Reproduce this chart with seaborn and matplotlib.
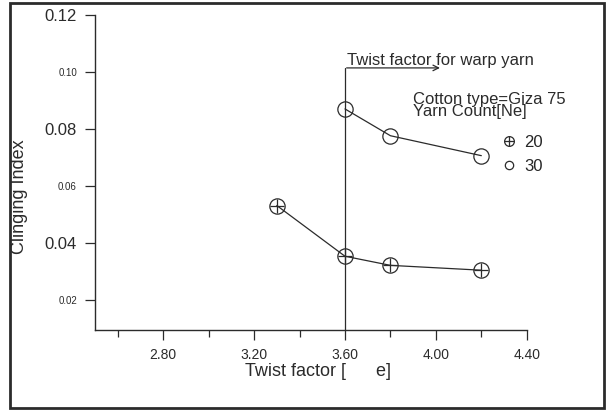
import pandas as pd
import numpy as np
import matplotlib.pyplot as plt
import seaborn as sns
from matplotlib.lines import Line2D
from matplotlib.legend_handler import HandlerTuple

# values
twist_20 = [3.30, 3.60, 3.80, 4.20]
cling_20 = [0.0532, 0.0354, 0.0322, 0.0305]
twist_30 = [3.60, 3.80, 4.20]
cling_30 = [0.0871, 0.0777, 0.0707]
count_labels = ["20", "30"]

df = pd.DataFrame({
    "twist": twist_20 + twist_30,
    "cling": cling_20 + cling_30,
    "count": [count_labels[0]] * len(twist_20) + [count_labels[1]] * len(twist_30),
})

sns.set_style("ticks")
plt.rcParams['font.family'] = ['Liberation Sans', 'DejaVu Sans']
ink = "#2b2b2b"

fig = plt.figure(figsize=(6.09, 4.11), dpi=100)
ax = fig.add_axes([0.156, 0.197, 0.709, 0.766])

for lab in count_labels:
    sub = df[df["count"] == lab]
    sns.lineplot(data=sub, x="twist", y="cling", ax=ax, color=ink, lw=0.9,
                 marker="o", markersize=11, markerfacecolor="none",
                 markeredgecolor=ink, markeredgewidth=0.9, legend=False)
sub20 = df[df["count"] == "20"]
sns.scatterplot(data=sub20, x="twist", y="cling", ax=ax, marker="+", s=110,
                color=ink, linewidth=0.9, legend=False)

ax.set_xlim(2.50, 4.40)
ax.set_ylim(0.0095, 0.12)
sns.despine(ax=ax)
for s in ["left", "bottom"]:
    ax.spines[s].set_color(ink)
    ax.spines[s].set_linewidth(1.0)

ax.set_xticks([2.80, 3.20, 3.60, 4.00, 4.40])
ax.set_xticks([2.60, 3.00, 3.40, 3.80, 4.20], minor=True)
ax.set_xticklabels(["2.80", "3.20", "3.60", "4.00", "4.40"], fontsize=10, color=ink)
ax.set_yticks([0.02, 0.04, 0.06, 0.08, 0.10, 0.12])
ax.set_yticklabels(["0.02", "0.04", "0.06", "0.08", "0.10", "0.12"], color=ink)
for i, t in enumerate(ax.get_yticklabels()):
    t.set_fontsize(7 if i % 2 == 0 else 12)
ax.tick_params(axis="both", which="major", length=7, width=0.9, color=ink, pad=6)
ax.tick_params(axis="x", which="minor", length=5, width=0.9, color=ink)

ax.set_xlabel("Twist factor [      e]", fontsize=13, color=ink, labelpad=0)
ax.set_ylabel("Clinging Index", fontsize=13, color=ink, labelpad=4)
ax.xaxis.set_label_coords(0.516, -0.105)
ax.yaxis.set_label_coords(-0.155, 0.425)

# warp yarn marker line with arrow
ax.plot([3.60, 3.60], [0.0095, 0.1015], color=ink, lw=0.9)
ax.annotate("", xy=(4.03, 0.1015), xytext=(3.595, 0.1015),
            arrowprops=dict(arrowstyle="->", color=ink, lw=0.9))
ax.text(3.61, 0.1025, "Twist factor for warp yarn", fontsize=12, color=ink)

ax.text(3.90, 0.0836, "Cotton type=Giza 75\nYarn Count[Ne]", fontsize=12,
        color=ink, linespacing=0.75, va="bottom")

h20 = (Line2D([], [], marker="o", ls="none", markersize=7, markerfacecolor="none",
              markeredgecolor=ink, markeredgewidth=0.9),
       Line2D([], [], marker="+", ls="none", markersize=7, color=ink, markeredgewidth=0.9))
h30 = Line2D([], [], marker="o", ls="none", markersize=6, markerfacecolor="none",
             markeredgecolor=ink, markeredgewidth=0.9)
ax.legend([h20, h30], count_labels, handler_map={tuple: HandlerTuple(ndivide=1, pad=0)},
          loc="upper left", bbox_to_anchor=(0.92, 0.645), frameon=False, fontsize=12,
          handlelength=1.0, handletextpad=0.4, labelspacing=0.5, borderpad=0)

fig.add_artist(plt.Rectangle((0.017, 0.008), 0.975, 0.985, transform=fig.transFigure,
                             fill=False, edgecolor=ink, lw=2))

fig.savefig("out.png", dpi=100)
